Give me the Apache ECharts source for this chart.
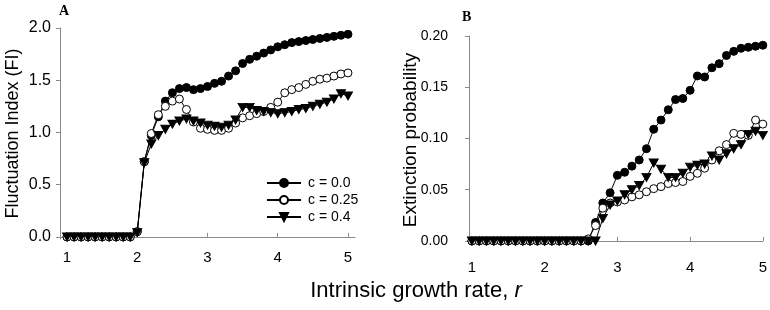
<!DOCTYPE html>
<html>
<head>
<meta charset="utf-8">
<script src="https://cdn.jsdelivr.net/npm/echarts@6/dist/echarts.min.js"></script>
<style>
	html, body { margin: 0; padding: 0; background: #fff; }
	#chart { width: 770px; height: 310px; }
</style>
</head>
<body>
<div id="chart"></div>
<script>
// intrinsic growth rate r (x values, both panels)
var rates = [1.0, 1.1, 1.2, 1.3, 1.4, 1.5, 1.6, 1.7, 1.8, 1.9,
	2.0, 2.1, 2.2, 2.3, 2.4, 2.5, 2.6, 2.7, 2.8, 2.9,
	3.0, 3.1, 3.2, 3.3, 3.4, 3.5, 3.6, 3.7, 3.8, 3.9,
	4.0, 4.1, 4.2, 4.3, 4.4, 4.5, 4.6, 4.7, 4.8, 4.9, 5.0];

var seriesNames = ['c = 0.0', 'c = 0.25', 'c = 0.4'];

// panel A: fluctuation index
var fiC0 = [0, 0, 0, 0, 0, 0, 0, 0, 0, 0,
	0.05, 0.72, 0.97, 1.15, 1.30, 1.38, 1.42, 1.43, 1.41, 1.42,
	1.44, 1.47, 1.49, 1.54, 1.59, 1.66, 1.70, 1.73, 1.76, 1.79,
	1.82, 1.84, 1.86, 1.87, 1.88, 1.89, 1.90, 1.91, 1.92, 1.93, 1.94];
var fiC25 = [0, 0, 0, 0, 0, 0, 0, 0, 0, 0,
	0.05, 0.72, 0.99, 1.17, 1.25, 1.30, 1.32, 1.22, 1.10, 1.04,
	1.03, 1.02, 1.02, 1.04, 1.09, 1.14, 1.16, 1.18, 1.20, 1.24,
	1.29, 1.38, 1.41, 1.43, 1.46, 1.49, 1.51, 1.52, 1.54, 1.56, 1.57];
var fiC4 = [0, 0, 0, 0, 0, 0, 0, 0, 0, 0,
	0.04, 0.71, 0.89, 0.97, 1.03, 1.08, 1.11, 1.13, 1.11, 1.09,
	1.07, 1.06, 1.05, 1.07, 1.12, 1.24, 1.24, 1.21, 1.20, 1.19,
	1.18, 1.19, 1.20, 1.22, 1.23, 1.25, 1.27, 1.29, 1.32, 1.37, 1.35];

// panel B: extinction probability
var epC0 = [0, 0, 0, 0, 0, 0, 0, 0, 0, 0,
	0, 0, 0, 0, 0, 0, 0, 0.018, 0.037, 0.047,
	0.064, 0.067, 0.073, 0.079, 0.090, 0.109, 0.118, 0.128, 0.138, 0.139,
	0.147, 0.161, 0.160, 0.169, 0.173, 0.181, 0.185, 0.188, 0.189, 0.190, 0.191];
var epC25 = [0, 0, 0, 0, 0, 0, 0, 0, 0, 0,
	0, 0, 0, 0, 0, 0, 0.002, 0.015, 0.032, 0.037,
	0.038, 0.040, 0.043, 0.045, 0.048, 0.051, 0.053, 0.056, 0.057, 0.058,
	0.063, 0.066, 0.071, 0.079, 0.088, 0.094, 0.105, 0.104, 0.103, 0.118, 0.114];
var epC4 = [0, 0, 0, 0, 0, 0, 0, 0, 0, 0,
	0, 0, 0, 0, 0, 0, 0, 0, 0.022, 0.035,
	0.039, 0.045, 0.050, 0.054, 0.062, 0.076, 0.070, 0.062, 0.062, 0.066,
	0.072, 0.074, 0.075, 0.083, 0.079, 0.085, 0.090, 0.094, 0.104, 0.107, 0.103];

// tick labels
var xTicks = [1, 2, 3, 4, 5];
var fiTicks = [0, 0.5, 1.0, 1.5, 2.0];
var epTicks = [0, 0.05, 0.10, 0.15, 0.20];

var FONT = 'Liberation Sans, Arial, sans-serif';
var AXIS_GREY = '#8a8a8a';

function pairs(vals) {
	return rates.map(function (r, i) { return [r, vals[i]]; });
}

// marker styles: filled circle, open circle, down triangle
var markers = [
	{ symbol: 'circle', symbolSize: 8, symbolRotate: 0, fill: '#000' },
	{ symbol: 'circle', symbolSize: 8, symbolRotate: 0, fill: '#fff' },
	{ symbol: 'triangle', symbolSize: [9, 8], symbolRotate: 180, fill: '#000' }
];

function makeSeries(idx, vals, axisIdx) {
	var m = markers[idx];
	return {
		name: seriesNames[idx],
		type: 'line',
		xAxisIndex: axisIdx,
		yAxisIndex: axisIdx,
		data: pairs(vals),
		symbol: m.symbol,
		symbolSize: m.symbolSize,
		symbolRotate: m.symbolRotate,
		showAllSymbol: true,
		animation: false,
		lineStyle: { color: '#000', width: 1 },
		itemStyle: { color: m.fill, borderColor: '#000', borderWidth: 1 },
		emphasis: { disabled: true }
	};
}

function xAxis(gridIdx, min, max, fontSize, margin) {
	return {
		type: 'value',
		gridIndex: gridIdx,
		min: min,
		max: max,
		splitLine: { show: false },
		axisLine: { lineStyle: { color: AXIS_GREY, width: 1 } },
		axisTick: {
			inside: true, length: 4,
			customValues: xTicks,
			lineStyle: { color: AXIS_GREY }
		},
		axisLabel: {
			customValues: xTicks,
			color: '#000',
			fontFamily: FONT,
			fontSize: fontSize,
			margin: margin
		}
	};
}

function yAxis(gridIdx, min, max, ticks, digits, name, nameGap, fontSize, margin, nameSize) {
	return {
		type: 'value',
		gridIndex: gridIdx,
		min: min,
		max: max,
		name: name,
		nameLocation: 'middle',
		nameGap: nameGap,
		nameMoveOverlap: false,
		nameTextStyle: { color: '#000', fontFamily: FONT, fontSize: nameSize },
		splitLine: { show: false },
		axisLine: { show: true, lineStyle: { color: AXIS_GREY, width: 1 } },
		axisTick: {
			show: true, length: 4,
			customValues: ticks,
			lineStyle: { color: AXIS_GREY }
		},
		axisLabel: {
			customValues: ticks,
			color: '#000',
			fontFamily: FONT,
			fontSize: fontSize,
			margin: margin,
			formatter: function (v) { return Number(v).toFixed(digits); }
		}
	};
}

var chart = echarts.init(document.getElementById('chart'), null, { renderer: 'canvas' });

var option = {
	backgroundColor: '#fff',
	animation: false,
	grid: [
		{ left: 60, top: 28, width: 295, height: 211 },
		{ left: 469, top: 36, width: 294, height: 208 }
	],
	xAxis: [
		xAxis(0, 0.9, 5.1, 15, 11),
		xAxis(1, 0.96, 5.0, 15, 16)
	],
	yAxis: [
		yAxis(0, -0.02, 2.0, fiTicks, 1, 'Fluctuation Index (FI)', 38, 16, 9, 18),
		yAxis(1, -0.003, 0.2, epTicks, 2, 'Extinction probability', 49, 14, 21, 19)
	],
	legend: {
		data: seriesNames,
		orient: 'vertical',
		left: 266,
		top: 176,
		itemWidth: 34,
		itemHeight: 10,
		itemGap: 3,
		padding: 0,
		selectedMode: false,
		textStyle: { color: '#000', fontFamily: FONT, fontSize: 14, padding: [0, 0, 0, 2] }
	},
	graphic: [
		{
			type: 'text', left: 59, top: 4,
			style: { text: 'A', font: 'bold 14px "Liberation Serif", serif', fill: '#000' }
		},
		{
			type: 'text', left: 462, top: 10,
			style: { text: 'B', font: 'bold 14px "Liberation Serif", serif', fill: '#000' }
		},
		{
			type: 'text', x: 416, y: 291,
			style: {
				text: 'Intrinsic growth rate, {i|r}',
				font: '22px "Liberation Sans", Arial, sans-serif',
				fill: '#000',
				align: 'center',
				verticalAlign: 'middle',
				rich: {
					i: { fontStyle: 'italic', fontSize: 22, fontFamily: FONT, fill: '#000' }
				}
			}
		}
	],
	series: [
		makeSeries(0, fiC0, 0),
		makeSeries(1, fiC25, 0),
		makeSeries(2, fiC4, 0),
		makeSeries(0, epC0, 1),
		makeSeries(1, epC25, 1),
		makeSeries(2, epC4, 1)
	]
};

chart.setOption(option);
</script>
</body>
</html>
